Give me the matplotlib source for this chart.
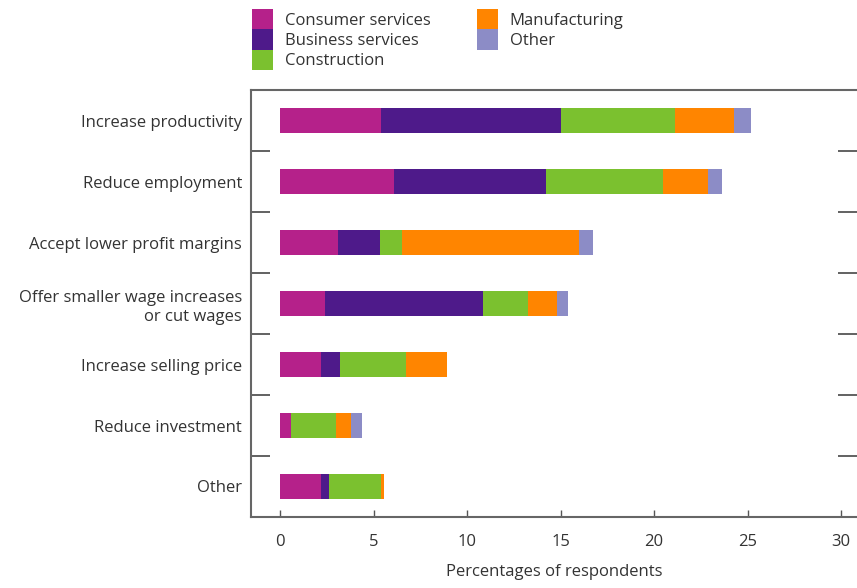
import numpy as np
import matplotlib
matplotlib.use('Agg')
import matplotlib.pyplot as plt

plt.rcParams['font.family'] = ['Open Sans', 'DejaVu Sans']

categorias = ['Increase productivity', 'Reduce employment', 'Accept lower profit margins',
              'Offer smaller wage increases\nor cut wages', 'Increase selling price',
              'Reduce investment', 'Other']
sectores = ['Consumer services', 'Business services', 'Construction', 'Manufacturing', 'Other']

consumer = [5.4, 6.1, 3.1, 2.4, 2.2, 0.6, 2.2]
business = [9.6, 8.1, 2.25, 8.45, 1.0, 0.0, 0.4]
construction = [6.1, 6.3, 1.15, 2.4, 3.55, 2.4, 2.8]
manufacturing = [3.2, 2.4, 9.5, 1.55, 2.2, 0.8, 0.17]
otros = [0.9, 0.75, 0.75, 0.6, 0.0, 0.57, 0.0]

colores = ['#b5218a', '#4e1a8a', '#7bc12f', '#ff8500', '#8c8cc6']

series = [consumer, business, construction, manufacturing, otros]

fig = plt.figure(figsize=(8.57, 5.88), dpi=100)
ax = fig.add_axes([251/857, 71/588, 606/857, 427/588])

y = np.arange(len(categorias))
izq = np.zeros(len(categorias))
for vals, lab, col in zip(series, sectores, colores):
    ax.barh(y, vals, left=izq, height=0.42, color=col, label=lab, edgecolor='none')
    izq = izq + np.array(vals)

ax.set_ylim(len(categorias) - 0.5, -0.5)
ax.set_xlim(-1.55, 30.85)
ax.set_yticks(y)
ax.set_yticklabels(categorias, fontsize=12, color='#333333', linespacing=1.25)
ax.set_yticks(np.arange(-0.5, len(categorias) + 0.5, 1)[1:-1], minor=True)
ax.tick_params(axis='y', which='major', length=0, pad=6.5)
ax.tick_params(axis='y', which='minor', direction='in', length=14, width=1.3,
               color='#555555', left=True, right=True)
ax.set_xticks([0, 5, 10, 15, 20, 25, 30])
ax.tick_params(axis='x', direction='in', length=5, width=1, color='#555555',
               pad=12, labelsize=12, labelcolor='#333333')
ax.set_xlabel('Percentages of respondents', fontsize=12, color='#333333', labelpad=10)

for s in ['left', 'bottom', 'top']:
    ax.spines[s].set_color('#666666')
    ax.spines[s].set_linewidth(1.5)
ax.spines['right'].set_visible(False)

fig.legend(loc='upper left', bbox_to_anchor=(252/857, 1 - 9/588), ncol=2, frameon=False,
           fontsize=12, handlelength=1.26, handleheight=1.5, labelspacing=0,
           handletextpad=0.7, columnspacing=2.8, borderpad=0, borderaxespad=0,
           labelcolor='#333333')

fig.savefig('out.png', dpi=100)
